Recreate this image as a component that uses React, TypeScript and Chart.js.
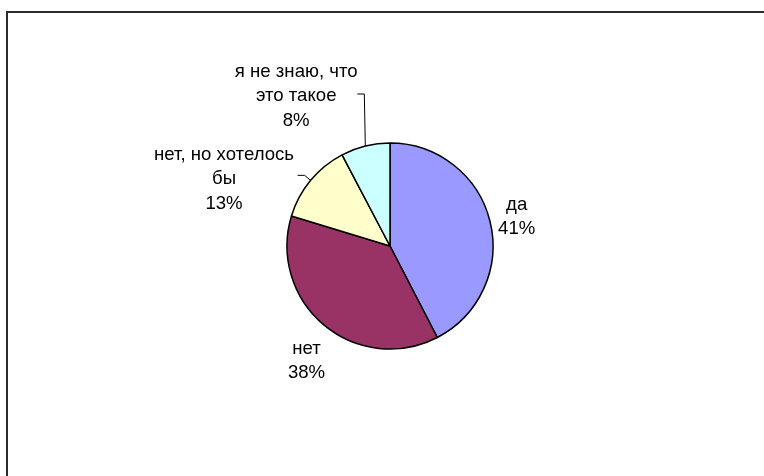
import React, { useEffect, useRef } from "react";
import { Chart, registerables } from "chart.js";

Chart.register(...registerables);

const categories = ["да", "нет", "нет, но хотелось бы", "я не знаю, что это такое"];
const values = [42.4, 37.3, 12.6, 7.7];
// percentage labels as printed on the chart
const percentLabels = ["41%", "38%", "13%", "8%"];
const colors = ["#9999FF", "#993366", "#FFFFCC", "#CCFFFF"];
// label text lines (wrapped as in the reference)
const labelLines = [["да"], ["нет"], ["нет, но хотелось", "бы"], ["я не знаю, что", "это такое"]];
// label placement: polar angle (deg, clockwise from top) and distance from pie centre
const labelAngle = [77, 216, 292, 328];
const labelDist = [130, 142, 179, 177];
// leader elbow offset relative to the arc edge point (null = no leader)
const leaderElbow: ([number, number] | null)[] = [null, null, [-6, -5], [-1, -52]];

const FONT = "18.6px 'Liberation Sans', Arial, sans-serif";
const LINE_H = 24.5;

const labelPlugin = {
  id: "pieLabels",
  afterDraw(chart: any) {
    const ctx = chart.ctx;
    const meta = chart.getDatasetMeta(0);
    ctx.save();
    ctx.font = FONT;
    ctx.fillStyle = "#000";
    ctx.textAlign = "center";
    ctx.textBaseline = "middle";
    meta.data.forEach((arc: any, i: number) => {
      const { x: cx, y: cy, outerRadius, startAngle, endAngle } = arc.getProps(
        ["x", "y", "outerRadius", "startAngle", "endAngle"],
        true
      );
      const a = (labelAngle[i] * Math.PI) / 180;
      const lx = cx + Math.sin(a) * labelDist[i];
      const ly = cy - Math.cos(a) * labelDist[i];
      const lines = [...labelLines[i], percentLabels[i]];
      const y0 = ly - ((lines.length - 1) * LINE_H) / 2;
      lines.forEach((t, k) => ctx.fillText(t, lx, y0 + k * LINE_H));
      const el = leaderElbow[i];
      if (el) {
        const mid = (startAngle + endAngle) / 2;
        const ex = cx + Math.cos(mid) * outerRadius;
        const ey = cy + Math.sin(mid) * outerRadius;
        const bx = ex + el[0];
        const by = ey + el[1];
        ctx.strokeStyle = "#000";
        ctx.lineWidth = 1;
        ctx.beginPath();
        ctx.moveTo(bx - 7, by);
        ctx.lineTo(bx, by);
        ctx.lineTo(ex, ey);
        ctx.stroke();
      }
    });
    ctx.restore();
  },
};

export default function App() {
  const ref = useRef<HTMLCanvasElement | null>(null);
  useEffect(() => {
    document.body.style.margin = "0";
    const chart = new Chart(ref.current!, {
      type: "pie",
      data: {
        labels: categories,
        datasets: [
          {
            data: values,
            backgroundColor: colors,
            borderColor: "#000",
            borderWidth: 1.5,
          },
        ],
      },
      options: {
        animation: false,
        responsive: false,
        radius: 103,
        layout: { padding: { left: 287, right: 271, top: 143, bottom: 127 } },
        plugins: { legend: { display: false }, tooltip: { enabled: false } },
      },
      plugins: [labelPlugin],
    });
    return () => chart.destroy();
  }, []);
  return (
    <div style={{ position: "relative", width: 764, height: 476, overflow: "hidden", background: "#fff" }}>
      <div
        style={{
          position: "absolute",
          left: 6,
          top: 11,
          width: 800,
          height: 500,
          borderLeft: "2px solid #2a2a2a",
          borderTop: "2px solid #2a2a2a",
        }}
      />
      <canvas ref={ref} width={764} height={476} style={{ position: "absolute", left: 0, top: 0 }} />
    </div>
  );
}
